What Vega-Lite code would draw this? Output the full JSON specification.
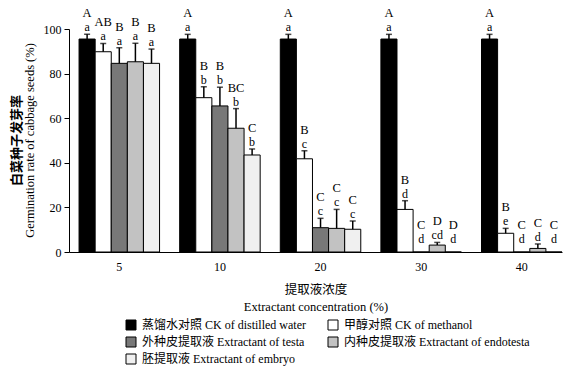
{
  "$schema": "https://vega.github.io/schema/vega-lite/v6.json",
  "width": 493,
  "height": 223,
  "autosize": "none",
  "padding": {"left": 69, "top": 29, "right": 6, "bottom": 117},
  "background": "white",
  "config": {
    "view": {"stroke": null},
    "font": "Liberation Serif, Noto Sans CJK SC",
    "axis": {"labelFont": "Liberation Serif", "labelColor": "black", "labelFontSize": 12, "domainColor": "black", "tickColor": "black", "titleColor": "black", "grid": false}
  },
  "title": {
    "text": "白菜种子发芽率",
    "subtitle": "Germination rate of cabbage seeds (%)",
    "orient": "left",
    "anchor": "middle",
    "font": "Noto Sans CJK SC",
    "fontWeight": "bold",
    "fontSize": 13,
    "color": "black",
    "subtitleFont": "Liberation Serif",
    "subtitleFontSize": 12.5,
    "subtitleColor": "black",
    "subtitlePadding": 0,
    "offset": 7
  },
  "data": {
    "values": [
      {"conc": "5", "series": "蒸馏水对照 CK of distilled water", "value": 95.5, "upper": 97.6, "lo": "a", "up": "A"},
      {"conc": "5", "series": "甲醇对照  CK of methanol", "value": 89.8, "upper": 93.5, "lo": "a", "up": "AB"},
      {"conc": "5", "series": "外种皮提取液 Extractant of testa", "value": 84.6, "upper": 91.6, "lo": "a", "up": "B"},
      {"conc": "5", "series": "内种皮提取液  Extractant of endotesta", "value": 85.3, "upper": 93.6, "lo": "a", "up": "B"},
      {"conc": "5", "series": "胚提取液  Extractant of embryo", "value": 84.6, "upper": 91.0, "lo": "a", "up": "B"},
      {"conc": "10", "series": "蒸馏水对照 CK of distilled water", "value": 95.5, "upper": 97.6, "lo": "a", "up": "A"},
      {"conc": "10", "series": "甲醇对照  CK of methanol", "value": 69.2, "upper": 74.1, "lo": "b", "up": "B"},
      {"conc": "10", "series": "外种皮提取液 Extractant of testa", "value": 65.5, "upper": 73.9, "lo": "b", "up": "B"},
      {"conc": "10", "series": "内种皮提取液  Extractant of endotesta", "value": 55.5, "upper": 64.3, "lo": "b", "up": "BC"},
      {"conc": "10", "series": "胚提取液  Extractant of embryo", "value": 43.5, "upper": 46.2, "lo": "b", "up": "C"},
      {"conc": "20", "series": "蒸馏水对照 CK of distilled water", "value": 95.5, "upper": 97.6, "lo": "a", "up": "A"},
      {"conc": "20", "series": "甲醇对照  CK of methanol", "value": 41.8, "upper": 45.4, "lo": "c", "up": "B"},
      {"conc": "20", "series": "外种皮提取液 Extractant of testa", "value": 10.9, "upper": 15.1, "lo": "c", "up": "C"},
      {"conc": "20", "series": "内种皮提取液  Extractant of endotesta", "value": 10.6, "upper": 19.1, "lo": "c", "up": "C"},
      {"conc": "20", "series": "胚提取液  Extractant of embryo", "value": 10.2, "upper": 13.9, "lo": "c", "up": "C"},
      {"conc": "30", "series": "蒸馏水对照 CK of distilled water", "value": 95.5, "upper": 97.6, "lo": "a", "up": "A"},
      {"conc": "30", "series": "甲醇对照  CK of methanol", "value": 19.1, "upper": 23.0, "lo": "d", "up": "B"},
      {"conc": "30", "series": "外种皮提取液 Extractant of testa", "value": 0, "upper": 0, "lo": "d", "up": "C"},
      {"conc": "30", "series": "内种皮提取液  Extractant of endotesta", "value": 3.1, "upper": 4.3, "lo": "cd", "up": "D"},
      {"conc": "30", "series": "胚提取液  Extractant of embryo", "value": 0, "upper": 0, "lo": "d", "up": "D"},
      {"conc": "40", "series": "蒸馏水对照 CK of distilled water", "value": 95.5, "upper": 97.6, "lo": "a", "up": "A"},
      {"conc": "40", "series": "甲醇对照  CK of methanol", "value": 8.4, "upper": 10.6, "lo": "e", "up": "B"},
      {"conc": "40", "series": "外种皮提取液 Extractant of testa", "value": 0, "upper": 0, "lo": "d", "up": "C"},
      {"conc": "40", "series": "内种皮提取液  Extractant of endotesta", "value": 1.6, "upper": 3.6, "lo": "d", "up": "C"},
      {"conc": "40", "series": "胚提取液  Extractant of embryo", "value": 0, "upper": 0, "lo": "d", "up": "C"}
    ]
  },
  "transform": [{"calculate": "datum.upper > 0 ? datum.upper : 2.7", "as": "lab"}],
  "encoding": {
    "x": {
      "field": "conc", "type": "ordinal", "sort": ["5", "10", "20", "30", "40"],
      "scale": {"paddingInner": 0.2, "paddingOuter": 0.05, "align": 1},
      "axis": {"labelAngle": 0, "ticks": false, "tickSize": 0, "labelPadding": 9, "domainWidth": 1,
        "title": ["提取液浓度", "Extractant concentration (%)"], "titleFont": "Liberation Serif, Noto Sans CJK SC",
        "titleFontSize": 12.5, "titleFontWeight": "normal", "titlePadding": 11, "titleLineHeight": 17}
    },
    "xOffset": {"field": "series", "type": "nominal", "sort": ["蒸馏水对照 CK of distilled water", "甲醇对照  CK of methanol", "外种皮提取液 Extractant of testa", "内种皮提取液  Extractant of endotesta", "胚提取液  Extractant of embryo"], "scale": {"paddingInner": 0, "paddingOuter": 0}}
  },
  "layer": [
    {
      "mark": {"type": "bar", "stroke": "black", "strokeWidth": 1},
      "encoding": {
        "y": {"field": "value", "type": "quantitative", "scale": {"domain": [0, 100], "nice": false},
          "axis": {"values": [0, 20, 40, 60, 80, 100], "tickSize": 5, "labelPadding": 3, "title": null, "domainWidth": 1}},
        "fill": {"field": "series", "type": "nominal",
          "scale": {"domain": ["蒸馏水对照 CK of distilled water", "外种皮提取液 Extractant of testa", "胚提取液  Extractant of embryo", "甲醇对照  CK of methanol", "内种皮提取液  Extractant of endotesta"],
            "range": ["#000000", "#787878", "#f0f0f0", "#ffffff", "#c2c2c2"]},
          "legend": {"orient": "none", "legendX": 56, "legendY": 290, "columns": 2, "title": null,
            "symbolType": "square", "symbolSize": 100, "symbolStrokeColor": "black", "symbolStrokeWidth": 1,
            "labelFont": "Liberation Serif, Noto Sans CJK SC", "labelFontSize": 12, "labelColor": "black", "labelLimit": 300,
            "columnPadding": 20, "rowPadding": 3, "labelOffset": 5, "gridAlign": "each"}
        }
      }
    },
    {
      "transform": [{"filter": "datum.upper > datum.value"}],
      "mark": {"type": "rule", "color": "black", "strokeWidth": 1.5},
      "encoding": {"y": {"field": "value", "type": "quantitative"}, "y2": {"field": "upper"}}
    },
    {
      "transform": [{"filter": "datum.upper > datum.value"}],
      "mark": {"type": "tick", "color": "black", "thickness": 1.5, "size": 6, "orient": "horizontal"},
      "encoding": {"y": {"field": "upper", "type": "quantitative"}}
    },
    {
      "mark": {"type": "text", "baseline": "middle", "dy": -7, "fontSize": 12, "font": "Liberation Serif", "color": "black"},
      "encoding": {"y": {"field": "lab", "type": "quantitative"}, "text": {"field": "lo"}}
    },
    {
      "mark": {"type": "text", "baseline": "middle", "dy": -21, "fontSize": 12.5, "font": "Liberation Serif", "color": "black"},
      "encoding": {"y": {"field": "lab", "type": "quantitative"}, "text": {"field": "up"}}
    }
  ]
}
